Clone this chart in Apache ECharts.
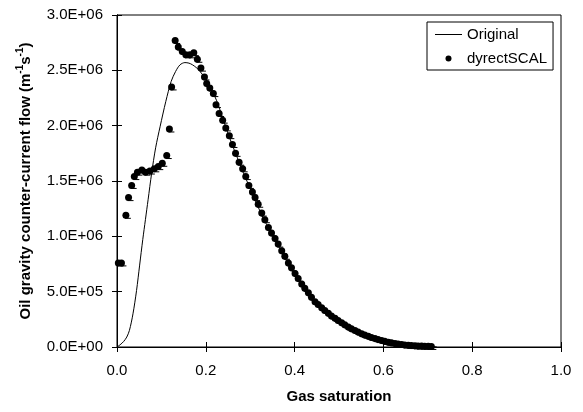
<!DOCTYPE html>
<html>
<head>
<meta charset="utf-8">
<script src="https://cdn.jsdelivr.net/npm/echarts@6/dist/echarts.min.js"></script>
<style>html,body{margin:0;padding:0;background:#fff}#c{width:583px;height:412px}</style>
</head>
<body>
<div id="c"></div>
<script>
// x ticks
var xTicks = [0.0, 0.2, 0.4, 0.6, 0.8, 1.0];
var yTicks = [0, 500000, 1000000, 1500000, 2000000, 2500000, 3000000];

// "Original" curve (gas saturation, flow in 1e6 units)
var origX = [0, 0.007, 0.015, 0.022, 0.028, 0.036, 0.044, 0.051, 0.058, 0.064, 0.07, 0.078, 0.087, 0.097, 0.11, 0.122, 0.132, 0.142, 0.153, 0.162, 0.17, 0.18, 0.187, 0.2, 0.209, 0.224, 0.25, 0.27, 0.3, 0.33, 0.36, 0.39, 0.42, 0.45, 0.48, 0.51, 0.54, 0.57, 0.6, 0.63, 0.66, 0.69, 0.72];
var origY = [0, 0.02, 0.05, 0.09, 0.15, 0.30, 0.51, 0.74, 0.97, 1.15, 1.33, 1.57, 1.80, 1.99, 2.22, 2.40, 2.49, 2.55, 2.57, 2.565, 2.55, 2.52, 2.49, 2.42, 2.35, 2.23, 1.93, 1.72, 1.43, 1.16, 0.94, 0.72, 0.54, 0.39, 0.29, 0.21, 0.14, 0.088, 0.053, 0.029, 0.014, 0.006, 0.002];

// "dyrectSCAL" points
var scalX = [0.003, 0.01, 0.02, 0.026, 0.033, 0.039, 0.046, 0.056, 0.064, 0.074, 0.084, 0.093, 0.102, 0.112, 0.118, 0.123, 0.131, 0.138, 0.147, 0.155, 0.164, 0.173, 0.181, 0.189, 0.197, 0.202, 0.209, 0.217, 0.223, 0.230, 0.238, 0.245, 0.253, 0.26, 0.267, 0.275, 0.283, 0.29, 0.297, 0.305, 0.311, 0.318, 0.326, 0.333, 0.341, 0.348, 0.356, 0.363, 0.371, 0.378, 0.386, 0.393, 0.401, 0.408, 0.416, 0.423, 0.431, 0.438, 0.446, 0.453, 0.461, 0.468, 0.476, 0.483, 0.491, 0.498, 0.506, 0.513, 0.521, 0.528, 0.536, 0.543, 0.551, 0.558, 0.566, 0.573, 0.581, 0.588, 0.596, 0.603, 0.611, 0.618, 0.626, 0.633, 0.641, 0.648, 0.656, 0.663, 0.671, 0.678, 0.686, 0.693, 0.701, 0.708];
var scalY = [0.76, 0.76, 1.19, 1.35, 1.46, 1.54, 1.58, 1.60, 1.58, 1.59, 1.61, 1.63, 1.66, 1.73, 1.97, 2.35, 2.77, 2.71, 2.67, 2.64, 2.64, 2.66, 2.60, 2.52, 2.44, 2.38, 2.34, 2.29, 2.19, 2.11, 2.05, 1.98, 1.91, 1.83, 1.75, 1.67, 1.61, 1.54, 1.46, 1.40, 1.35, 1.29, 1.21, 1.15, 1.08, 1.03, 0.98, 0.93, 0.87, 0.82, 0.76, 0.715, 0.665, 0.62, 0.57, 0.53, 0.49, 0.45, 0.41, 0.385, 0.355, 0.33, 0.305, 0.28, 0.26, 0.24, 0.22, 0.20, 0.18, 0.165, 0.15, 0.135, 0.12, 0.108, 0.097, 0.086, 0.076, 0.067, 0.059, 0.051, 0.044, 0.038, 0.032, 0.027, 0.023, 0.019, 0.016, 0.013, 0.011, 0.009, 0.008, 0.007, 0.006, 0.005];

var SCALE = 1e6;
var origData = origX.map(function (x, i) { return [x, origY[i] * SCALE]; });
var scalData = scalX.map(function (x, i) { return [x, scalY[i] * SCALE]; });

function sci(v) {
  if (v === 0) return '0.0E+00';
  var e = Math.floor(Math.log10(v) + 1e-9);
  var m = v / Math.pow(10, e);
  return m.toFixed(1) + 'E+' + (e < 10 ? '0' + e : e);
}

var FONT = 'Liberation Sans';
var chart = echarts.init(document.getElementById('c'), null, {renderer: 'canvas'});
var axisCommon = {
  axisLine: {show: true, lineStyle: {color: '#000', width: 1}},
  splitLine: {show: false}
};
chart.setOption({
  animation: false,
  backgroundColor: '#fff',
  textStyle: {fontFamily: FONT},
  grid: {left: 117, right: 22, top: 15, bottom: 65, show: true, borderColor: '#000', borderWidth: 1, backgroundColor: 'transparent'},
  legend: {
    orient: 'vertical', left: 427, top: 22,
    padding: [5, 6, 4, 8], itemGap: 9, itemWidth: 27, itemHeight: 6,
    backgroundColor: '#fff', borderColor: '#000', borderWidth: 1, borderRadius: 0,
    textStyle: {fontFamily: FONT, fontSize: 15, color: '#000', lineHeight: 15},
    data: [{name: 'Original', icon: 'path://M0,0h27v1h-27z'}, {name: 'dyrectSCAL', icon: 'circle'}]
  },
  xAxis: [
    Object.assign({}, axisCommon, {
      type: 'value', min: 0, max: 1, interval: 0.2,
      name: 'Gas saturation', nameLocation: 'middle', nameGap: 42,
      nameTextStyle: {fontFamily: FONT, fontSize: 15, fontWeight: 'bold', color: '#000'},
      axisTick: {show: true, length: 5, lineStyle: {color: '#000'}},
      axisLabel: {margin: 16, fontFamily: FONT, fontSize: 15, color: '#000', formatter: function (v) { return v.toFixed(1); }}
    }),
    Object.assign({}, axisCommon, {
      type: 'value', min: 0, max: 1, interval: 0.2, position: 'bottom',
      axisTick: {show: true, inside: true, length: 5, lineStyle: {color: '#000'}},
      axisLabel: {show: false}
    })
  ],
  yAxis: [
    Object.assign({}, axisCommon, {
      type: 'value', min: 0, max: 3000000, interval: 500000,
      name: '{b|Oil gravity counter-current flow (m}{s|-1}{b|s}{s|-1}{b|)}',
      nameLocation: 'middle', nameGap: 84, nameRotate: 90,
      nameTextStyle: {
        fontFamily: FONT, fontSize: 15, fontWeight: 'bold', color: '#000',
        rich: {
          b: {fontFamily: FONT, fontSize: 15, fontWeight: 'bold', color: '#000', lineHeight: 18, verticalAlign: 'bottom'},
          s: {fontFamily: FONT, fontSize: 10, fontWeight: 'bold', color: '#000', lineHeight: 18, verticalAlign: 'top'}
        }
      },
      axisTick: {show: true, length: 5, lineStyle: {color: '#000'}},
      axisLabel: {margin: 14, fontFamily: FONT, fontSize: 15, color: '#000', formatter: sci}
    }),
    Object.assign({}, axisCommon, {
      type: 'value', min: 0, max: 3000000, interval: 500000, position: 'left',
      axisTick: {show: true, inside: true, length: 5, lineStyle: {color: '#000'}},
      axisLabel: {show: false}
    })
  ],
  series: [
    {
      name: 'Original', type: 'line', data: origData, smooth: 0.3, symbol: 'none',
      lineStyle: {color: '#000', width: 1}, itemStyle: {color: '#000'}, z: 2
    },
    {
      name: 'errbar', type: 'custom', data: scalData, silent: true, z: 3,
      renderItem: function (params, api) {
        var p = api.coord([api.value(0), api.value(1)]);
        return {
          type: 'line',
          shape: {x1: p[0] - 1, y1: p[1] + 3, x2: p[0] + 5, y2: p[1] + 3},
          style: {stroke: '#000', lineWidth: 1}
        };
      }
    },
    {
      name: 'dyrectSCAL', type: 'scatter', data: scalData, symbol: 'circle', symbolSize: 7,
      itemStyle: {color: '#000', opacity: 1}, z: 4
    }
  ]
});
</script>
</body>
</html>
